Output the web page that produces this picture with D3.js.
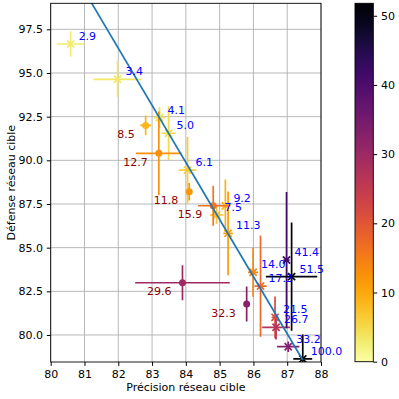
<!DOCTYPE html>
<html>
<head>
<meta charset="utf-8">
<script src="https://cdn.jsdelivr.net/npm/d3@7"></script>
<style>
    body { margin: 0; background: #fff; }
    text { font-family: 'DejaVu Sans', sans-serif; }
</style>
</head>
<body>
<div id="chart-area"></div>
<script>
'use strict';

// points drawn as crosses (blue labels)
let crossLabels = [2.9, 3.4, 4.1, 5.0, 6.1, 7.5, 9.2, 11.3, 14.0, 17.3, 21.5, 26.7, 33.2, 41.4, 51.5, 100.0];
let crossX = [80.59, 81.98, 83.22, 83.49, 84.05, 84.91, 85.17, 85.25, 85.99, 86.21, 86.64, 86.67, 87.03, 86.98, 87.13, 87.46];
let crossY = [96.66, 94.64, 92.45, 91.55, 89.44, 86.87, 87.4, 85.82, 83.59, 82.8, 81.01, 80.44, 79.33, 84.29, 83.34, 78.63];
let crossXErr = [0.41, 0.71, 0.16, 0.21, 0.26, 0.2, 0.15, 0.14, 0.15, 0.18, 0.1, 0.41, 0.33, 0.09, 0.76, 0.28];
let crossYErr = [0.73, 1.03, 0.6, 1.55, 1.9, 0.5, 1.5, 2.4, 1.4, 2.9, 1.2, 0.7, 0.3, 3.9, 3.1, 1.4];

// points drawn as circles (dark red labels)
let circleLabels = [8.5, 12.7, 11.8, 15.9, 29.6, 32.3];
let circleX = [82.81, 83.2, 84.1, 84.81, 83.9, 85.8];
let circleY = [92.0, 90.4, 88.2, 87.4, 82.99, 81.77];
let circleXErr = [0.16, 0.68, 0.05, 0.45, 1.4, 0.05];
let circleYErr = [0.56, 2.4, 0.5, 1.15, 1.0, 1.0];

// fitted line y = slope * x + intercept
let fitSlope = -3.27;
let fitIntercept = 364.56;
let fitRange = [80.59, 87.46];

let xTicks = [80, 81, 82, 83, 84, 85, 86, 87, 88];
let yTicks = [80.0, 82.5, 85.0, 87.5, 90.0, 92.5, 95.0, 97.5];
let cbTicks = [0, 10, 20, 30, 40, 50];
let cbMax = 51.8;

let margin = { left: 50.7, top: 3.3 };
let w = 270.3;
let h = 358.7;

draw();

function draw() {
    let svg = d3.select('#chart-area').append('svg')
        .attr('width', 399)
        .attr('height', 399);

    let x = d3.scaleLinear().domain([80, 88]).range([margin.left, margin.left + w]);
    let y = d3.scaleLinear().domain([78.454, 98.99]).range([margin.top + h, margin.top]);
    let colour = function(v) {
        return d3.interpolateInferno(1 - Math.min(v, cbMax) / cbMax);
    };

    svg.append('clipPath').attr('id', 'plot-clip')
        .append('rect')
        .attr('x', margin.left).attr('y', margin.top)
        .attr('width', w).attr('height', h);

    // grid
    svg.append('g').selectAll('line').data(xTicks).enter().append('line')
        .attr('x1', d => x(d)).attr('x2', d => x(d))
        .attr('y1', margin.top).attr('y2', margin.top + h)
        .attr('stroke', '#b0b0b0').attr('stroke-width', 0.9);
    svg.append('g').selectAll('line').data(yTicks).enter().append('line')
        .attr('x1', margin.left).attr('x2', margin.left + w)
        .attr('y1', d => y(d)).attr('y2', d => y(d))
        .attr('stroke', '#b0b0b0').attr('stroke-width', 0.9);

    let plot = svg.append('g').attr('clip-path', 'url(#plot-clip)');

    let crosses = crossLabels.map((v, i) => ({
        v: v, x: crossX[i], y: crossY[i], ex: crossXErr[i], ey: crossYErr[i]
    }));
    let circles = circleLabels.map((v, i) => ({
        v: v, x: circleX[i], y: circleY[i], ex: circleXErr[i], ey: circleYErr[i]
    }));

    function errorbars(pts) {
        pts.forEach(d => {
            plot.append('line')
                .attr('x1', x(d.x - d.ex)).attr('x2', x(d.x + d.ex))
                .attr('y1', y(d.y)).attr('y2', y(d.y))
                .attr('stroke', colour(d.v)).attr('stroke-width', 1.7);
            plot.append('line')
                .attr('x1', x(d.x)).attr('x2', x(d.x))
                .attr('y1', y(d.y - d.ey)).attr('y2', y(d.y + d.ey))
                .attr('stroke', colour(d.v)).attr('stroke-width', 1.7);
        });
    }

    errorbars(crosses);
    let s = 3.6;
    crosses.forEach(d => {
        let cx = x(d.x), cy = y(d.y);
        plot.append('path')
            .attr('d', 'M' + (cx - s) + ',' + (cy - s) + 'L' + (cx + s) + ',' + (cy + s) +
                'M' + (cx - s) + ',' + (cy + s) + 'L' + (cx + s) + ',' + (cy - s))
            .attr('stroke', colour(d.v)).attr('stroke-width', 1.7).attr('fill', 'none');
    });

    errorbars(circles);
    plot.selectAll('circle.pt').data(circles).enter().append('circle')
        .attr('class', 'pt')
        .attr('cx', d => x(d.x)).attr('cy', d => y(d.y))
        .attr('r', 3.5)
        .attr('fill', d => colour(d.v));

    // fit line
    plot.append('line')
        .attr('x1', x(fitRange[0])).attr('y1', y(fitSlope * fitRange[0] + fitIntercept))
        .attr('x2', x(fitRange[1])).attr('y2', y(fitSlope * fitRange[1] + fitIntercept))
        .attr('stroke', '#1f77b4').attr('stroke-width', 1.7);

    // annotations
    svg.append('g').selectAll('text').data(crosses).enter().append('text')
        .attr('x', d => x(d.x) + 8).attr('y', d => y(d.y) - 4)
        .attr('font-size', '11px').attr('fill', 'blue')
        .text(d => d.v.toFixed(1));
    svg.append('g').selectAll('text').data(circles).enter().append('text')
        .attr('x', d => x(d.x) - 11).attr('y', d => y(d.y) + 12.5)
        .attr('font-size', '11px').attr('fill', 'darkred')
        .attr('text-anchor', 'end')
        .text(d => d.v.toFixed(1));

    // frame and axes
    svg.append('rect')
        .attr('x', margin.left).attr('y', margin.top)
        .attr('width', w).attr('height', h)
        .attr('fill', 'none').attr('stroke', '#000').attr('stroke-width', 0.9);

    let x_axis = d3.axisBottom(x).tickValues(xTicks).tickFormat(d3.format('d'))
        .tickSizeOuter(0).tickSizeInner(3.9).tickPadding(3.9);
    svg.append('g')
        .attr('transform', 'translate(0,' + (margin.top + h) + ')')
        .call(x_axis)
        .call(g => g.select('.domain').remove())
        .selectAll('text').attr('font-size', '11px').attr('font-family', 'DejaVu Sans');

    let y_axis = d3.axisLeft(y).tickValues(yTicks).tickFormat(d3.format('.1f'))
        .tickSizeOuter(0).tickSizeInner(3.9).tickPadding(3.9);
    svg.append('g')
        .attr('transform', 'translate(' + margin.left + ',0)')
        .call(y_axis)
        .call(g => g.select('.domain').remove())
        .selectAll('text').attr('font-size', '11px').attr('font-family', 'DejaVu Sans');

    svg.append('text')
        .attr('x', margin.left + w / 2).attr('y', 391)
        .attr('font-size', '11px').attr('text-anchor', 'middle')
        .text('Précision réseau cible');

    svg.append('text')
        .attr('transform', 'translate(14.5,' + (margin.top + h / 2) + ') rotate(-90)')
        .attr('font-size', '11px').attr('text-anchor', 'middle')
        .text('Défense réseau cible');

    // colour bar
    let cb = d3.scaleLinear().domain([0, cbMax]).range([361.7, 3.3]);
    let grad = svg.append('defs').append('linearGradient')
        .attr('id', 'cb-grad').attr('x1', 0).attr('y1', 1).attr('x2', 0).attr('y2', 0);
    d3.range(0, 1.0001, 0.05).forEach(t => {
        grad.append('stop').attr('offset', t).attr('stop-color', colour(t * cbMax));
    });
    svg.append('rect')
        .attr('x', 355).attr('y', cb(cbMax))
        .attr('width', 18.3).attr('height', cb(0) - cb(cbMax))
        .attr('fill', 'url(#cb-grad)')
        .attr('stroke', '#000').attr('stroke-width', 0.9);

    let cb_axis = d3.axisRight(cb).tickValues(cbTicks)
        .tickSizeOuter(0).tickSizeInner(3.9).tickPadding(3.9);
    svg.append('g')
        .attr('transform', 'translate(373.3,0)')
        .call(cb_axis)
        .call(g => g.select('.domain').remove())
        .selectAll('text').attr('font-size', '11px').attr('font-family', 'DejaVu Sans');
}
</script>
</body>
</html>
